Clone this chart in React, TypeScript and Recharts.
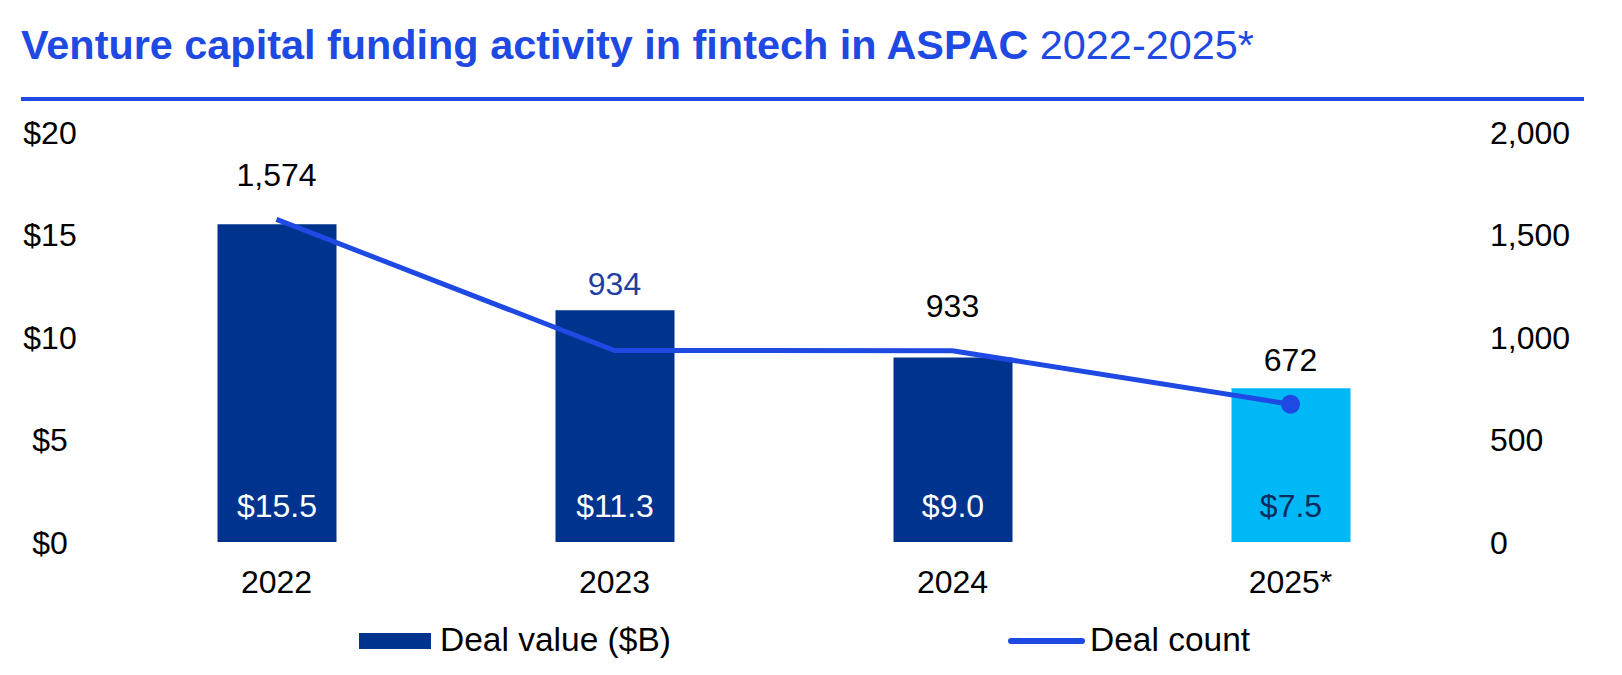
import React from 'react';
import { ComposedChart, Bar, Line, XAxis, YAxis, Cell, LabelList } from 'recharts';

const years = ['2022', '2023', '2024', '2025*'];
const dealValue = [15.5, 11.3, 9.0, 7.5];
const dealCount = [1574, 934, 933, 672];
const valueTicks = [0, 5, 10, 15, 20];
const countTicks = [0, 500, 1000, 1500, 2000];
const seriesNames = ['Deal value ($B)', 'Deal count'];

const BLUE = '#1E49E2';
const NAVY = '#00338D';
const CYAN = '#00B8F5';
const FONT = '"Liberation Sans", Arial, Helvetica, sans-serif';

const data = years.map((year, i) => ({ year, value: dealValue[i], count: dealCount[i] }));

const LeftTick = ({ x, y, payload }: any) => (
  <text x={x} y={y} dy={11.5} textAnchor="middle" fontSize={32} fill="#000" fontFamily={FONT}>
    {`$${payload.value}`}
  </text>
);

const RightTick = ({ x, y, payload }: any) => (
  <text x={x} y={y} dy={11.5} textAnchor="start" fontSize={32} fill="#000" fontFamily={FONT}>
    {Number(payload.value).toLocaleString('en-US')}
  </text>
);

const YearTick = ({ x, y, payload }: any) => (
  <text x={x} y={y} dy={50.5} textAnchor="middle" fontSize={32} fill="#000" fontFamily={FONT}>
    {payload.value}
  </text>
);

// value label sits near the bottom of each bar
const BarValueLabel = (props: any) => {
  const { x, y, width, height, value, index } = props;
  return (
    <text
      x={x + width / 2}
      y={y + height - 25.5}
      textAnchor="middle"
      fontSize={32}
      fill={index === years.length - 1 ? '#0D2B5C' : '#fff'}
      fontFamily={FONT}
    >
      {`$${Number(value).toFixed(1)}`}
    </text>
  );
};

const CountLabel = (props: any) => {
  const { x, y, value, index } = props;
  const lift = index === 1 ? 67 : 45;
  return (
    <text
      x={x}
      y={y - lift + 11.5}
      textAnchor="middle"
      fontSize={32}
      fill={index === 1 ? '#1F3F9F' : '#000'}
      fontFamily={FONT}
    >
      {Number(value).toLocaleString('en-US')}
    </text>
  );
};

const LastDot = (props: any) => {
  const { cx, cy, index } = props;
  if (index !== dealCount.length - 1) return <g key={`dot-${index}`} />;
  return <circle key={`dot-${index}`} cx={cx} cy={cy} r={9.5} fill={BLUE} />;
};

export default function App() {
  return (
    <div
      style={{
        position: 'absolute',
        left: 0,
        top: 0,
        width: 1622,
        height: 675,
        background: '#fff',
        fontFamily: FONT,
        overflow: 'hidden',
      }}
    >
      <div
        style={{
          position: 'absolute',
          left: 21,
          top: 25,
          fontSize: 41.4,
          lineHeight: '41.4px',
          color: BLUE,
          whiteSpace: 'nowrap',
        }}
      >
        <span style={{ fontWeight: 'bold' }}>Venture capital funding activity in fintech in ASPAC</span>
        <span> 2022-2025*</span>
      </div>
      <div style={{ position: 'absolute', left: 21, top: 97, width: 1563, height: 3.5, background: BLUE }} />

      <div style={{ position: 'absolute', left: 0, top: 0 }}>
        <ComposedChart
          width={1622}
          height={675}
          data={data}
          margin={{ top: 132, right: 12.5, bottom: 73, left: 7.5 }}
          barSize={119}
        >
          <XAxis
            dataKey="year"
            axisLine={false}
            tickLine={false}
            tickSize={0}
            tickMargin={0}
            height={60}
            tick={<YearTick />}
            interval={0}
          />
          <YAxis
            yAxisId="left"
            domain={[0, 20]}
            ticks={valueTicks}
            axisLine={false}
            tickLine={false}
            tickSize={0}
            tickMargin={57.5}
            width={100}
            tick={<LeftTick />}
            interval={0}
          />
          <YAxis
            yAxisId="right"
            orientation="right"
            domain={[0, 2000]}
            ticks={countTicks}
            axisLine={false}
            tickLine={false}
            tickSize={0}
            tickMargin={30.5}
            width={150}
            tick={<RightTick />}
            interval={0}
          />
          <Bar yAxisId="left" dataKey="value" name={seriesNames[0]} isAnimationActive={false}>
            {data.map((d, i) => (
              <Cell key={`cell-${i}`} fill={i === data.length - 1 ? CYAN : NAVY} />
            ))}
            <LabelList dataKey="value" content={<BarValueLabel />} />
          </Bar>
          <Line
            yAxisId="right"
            dataKey="count"
            name={seriesNames[1]}
            type="linear"
            stroke={BLUE}
            strokeWidth={5}
            dot={LastDot}
            activeDot={false}
            isAnimationActive={false}
          >
            <LabelList dataKey="count" content={<CountLabel />} />
          </Line>
        </ComposedChart>
      </div>

      {/* legend */}
      <div style={{ position: 'absolute', left: 359, top: 633, width: 72, height: 15.5, background: NAVY }} />
      <div style={{ position: 'absolute', left: 440, top: 620, fontSize: 33.5, lineHeight: '40px', color: '#000', whiteSpace: 'nowrap' }}>
        {seriesNames[0]}
      </div>
      <div
        style={{ position: 'absolute', left: 1008, top: 638, width: 77, height: 6, borderRadius: 3, background: BLUE }}
      />
      <div style={{ position: 'absolute', left: 1090, top: 620, fontSize: 33.5, lineHeight: '40px', color: '#000', whiteSpace: 'nowrap' }}>
        {seriesNames[1]}
      </div>
    </div>
  );
}
